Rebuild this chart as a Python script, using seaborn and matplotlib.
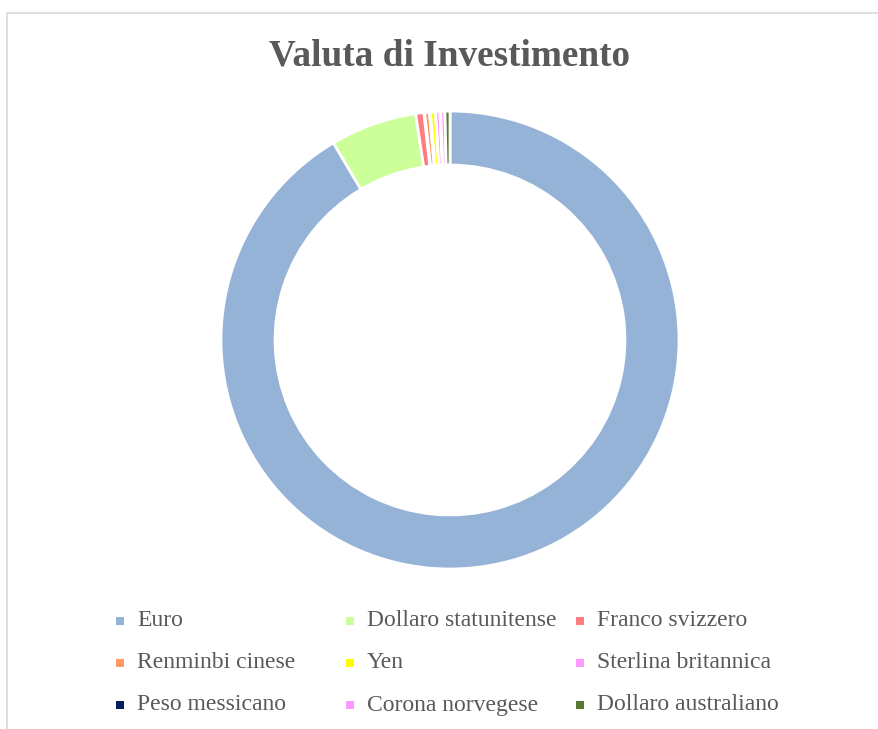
import seaborn as sns
import matplotlib.pyplot as plt
from matplotlib.patches import Rectangle

# dati (percentuali stimate)
valute = ['Euro', 'Dollaro statunitense', 'Franco svizzero',
          'Renminbi cinese', 'Yen', 'Sterlina britannica',
          'Peso messicano', 'Corona norvegese', 'Dollaro australiano']
quote = [91.5, 6.1, 0.6, 0.4, 0.4, 0.3, 0.05, 0.3, 0.35]
colori = ['#95B3D7', '#CCFF99', '#FF7C80', '#FF9966', '#FFFF00',
          '#FF99FF', '#002060', '#FF99FF', '#577A30']

sns.set_theme(style='white')
plt.rcParams['font.family'] = ['Liberation Serif', 'DejaVu Serif']

W, H = 879, 729
fig = plt.figure(figsize=(W / 100, H / 100), dpi=100)

# cornice grigia dell'area del grafico
fig.patches.append(Rectangle((7 / W, -0.05), 1.0, (H - 13) / H + 0.05,
                             transform=fig.transFigure, fill=False,
                             edgecolor='#D9D9D9', linewidth=1.2))

# ciambella
cx, cy, r = 450, 340, 229
ax = fig.add_axes([(cx - r) / W, (H - cy - r) / H, 2 * r / W, 2 * r / H])
spicchi, _ = ax.pie(quote, colors=colori, startangle=90, counterclock=False, radius=1,
                    wedgeprops={'width': 0.236, 'edgecolor': 'white', 'linewidth': 2})
# le fette minuscole quasi scompaiono sotto il bordo bianco
for s in spicchi[3:5]:
    s.set_linewidth(2.6)
ax.set_xlim(-1, 1)
ax.set_ylim(-1, 1)
ax.set_aspect('equal')
ax.axis('off')

# titolo
fig.text(450 / W, 1 - 56 / H, 'Valuta di Investimento', ha='center', va='center',
         fontsize=26.8, fontweight='bold', color='#595959')

# legenda su 3 colonne
col_x = [120, 350, 580]
row_y = [621, 663, 705]
for i, (nome, col) in enumerate(zip(valute, colori)):
    x = col_x[i % 3]
    y = row_y[i // 3]
    fig.patches.append(Rectangle(((x - 4) / W, 1 - (y + 4) / H), 8 / W, 8 / H,
                                 transform=fig.transFigure, facecolor=col,
                                 edgecolor='none'))
    fig.text((x + 17) / W, 1 - y / H, nome, ha='left', va='center',
             fontsize=17, color='#595959')

fig.savefig('out.png', dpi=100)
